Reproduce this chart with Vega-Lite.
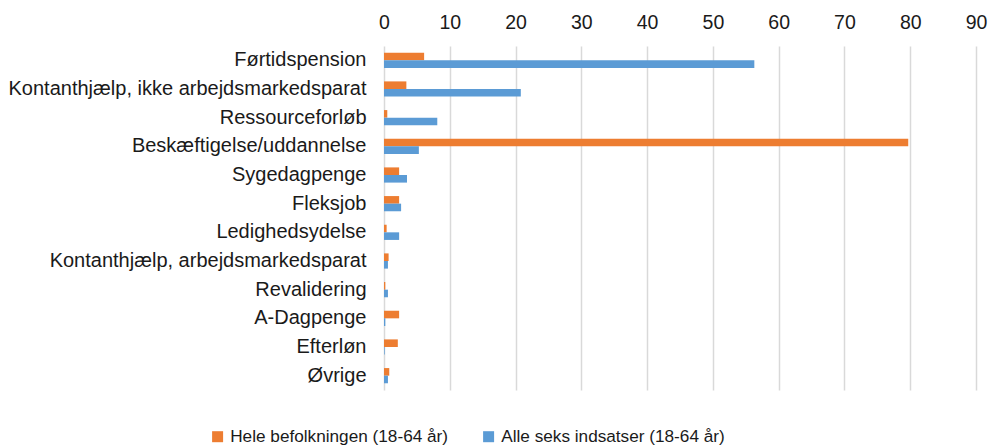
{
  "$schema": "https://vega.github.io/schema/vega-lite/v6.json",
  "width": 592,
  "height": 344,
  "autosize": {"type": "none"},
  "padding": {"left": 384, "top": 46, "right": 12, "bottom": 56},
  "config": {"view": {"stroke": null}, "font": "Liberation Sans"},
  "data": {
    "values": [
      {"kategori": "Førtidspension", "serie": "Hele befolkningen (18-64 år)", "value": 6.1},
      {"kategori": "Førtidspension", "serie": "Alle seks indsatser (18-64 år)", "value": 56.3},
      {"kategori": "Kontanthjælp, ikke arbejdsmarkedsparat", "serie": "Hele befolkningen (18-64 år)", "value": 3.4},
      {"kategori": "Kontanthjælp, ikke arbejdsmarkedsparat", "serie": "Alle seks indsatser (18-64 år)", "value": 20.8},
      {"kategori": "Ressourceforløb", "serie": "Hele befolkningen (18-64 år)", "value": 0.5},
      {"kategori": "Ressourceforløb", "serie": "Alle seks indsatser (18-64 år)", "value": 8.1},
      {"kategori": "Beskæftigelse/uddannelse", "serie": "Hele befolkningen (18-64 år)", "value": 79.7},
      {"kategori": "Beskæftigelse/uddannelse", "serie": "Alle seks indsatser (18-64 år)", "value": 5.3},
      {"kategori": "Sygedagpenge", "serie": "Hele befolkningen (18-64 år)", "value": 2.3},
      {"kategori": "Sygedagpenge", "serie": "Alle seks indsatser (18-64 år)", "value": 3.5},
      {"kategori": "Fleksjob", "serie": "Hele befolkningen (18-64 år)", "value": 2.3},
      {"kategori": "Fleksjob", "serie": "Alle seks indsatser (18-64 år)", "value": 2.6},
      {"kategori": "Ledighedsydelse", "serie": "Hele befolkningen (18-64 år)", "value": 0.4},
      {"kategori": "Ledighedsydelse", "serie": "Alle seks indsatser (18-64 år)", "value": 2.3},
      {"kategori": "Kontanthjælp, arbejdsmarkedsparat", "serie": "Hele befolkningen (18-64 år)", "value": 0.7},
      {"kategori": "Kontanthjælp, arbejdsmarkedsparat", "serie": "Alle seks indsatser (18-64 år)", "value": 0.6},
      {"kategori": "Revalidering", "serie": "Hele befolkningen (18-64 år)", "value": 0.2},
      {"kategori": "Revalidering", "serie": "Alle seks indsatser (18-64 år)", "value": 0.6},
      {"kategori": "A-Dagpenge", "serie": "Hele befolkningen (18-64 år)", "value": 2.3},
      {"kategori": "A-Dagpenge", "serie": "Alle seks indsatser (18-64 år)", "value": 0.2},
      {"kategori": "Efterløn", "serie": "Hele befolkningen (18-64 år)", "value": 2.1},
      {"kategori": "Efterløn", "serie": "Alle seks indsatser (18-64 år)", "value": 0.1},
      {"kategori": "Øvrige", "serie": "Hele befolkningen (18-64 år)", "value": 0.8},
      {"kategori": "Øvrige", "serie": "Alle seks indsatser (18-64 år)", "value": 0.6}
    ]
  },
  "mark": {"type": "bar"},
  "encoding": {
    "y": {
      "field": "kategori",
      "type": "nominal",
      "sort": ["Førtidspension", "Kontanthjælp, ikke arbejdsmarkedsparat", "Ressourceforløb", "Beskæftigelse/uddannelse", "Sygedagpenge", "Fleksjob", "Ledighedsydelse", "Kontanthjælp, arbejdsmarkedsparat", "Revalidering", "A-Dagpenge", "Efterløn", "Øvrige"],
      "scale": {"paddingInner": 0.47, "paddingOuter": 0.235},
      "axis": {"title": null, "ticks": false, "domain": false, "labelFontSize": 20, "labelColor": "#1a1a1a", "labelPadding": 18, "labelLimit": 400}
    },
    "yOffset": {
      "field": "serie",
      "sort": ["Hele befolkningen (18-64 år)", "Alle seks indsatser (18-64 år)"]
    },
    "x": {
      "field": "value",
      "type": "quantitative",
      "scale": {"domain": [0, 90], "nice": false},
      "axis": {"orient": "top", "values": [0, 10, 20, 30, 40, 50, 60, 70, 80, 90], "title": null, "grid": true, "gridColor": "#d9d9d9", "gridWidth": 1.5, "domain": false, "ticks": false, "labelFlush": false, "labelFontSize": 19.5, "labelColor": "#1a1a1a", "labelPadding": 14}
    },
    "color": {
      "field": "serie",
      "type": "nominal",
      "scale": {"domain": ["Hele befolkningen (18-64 år)", "Alle seks indsatser (18-64 år)"], "range": ["#ED7D31", "#5B9BD5"]},
      "legend": {"title": null, "orient": "none", "direction": "horizontal", "legendX": -175, "legendY": 382, "symbolType": "square", "symbolSize": 121, "symbolStrokeWidth": 0, "labelFontSize": 17.2, "labelColor": "#1a1a1a", "labelOffset": 4, "columnPadding": 31, "labelLimit": 400}
    }
  }
}
